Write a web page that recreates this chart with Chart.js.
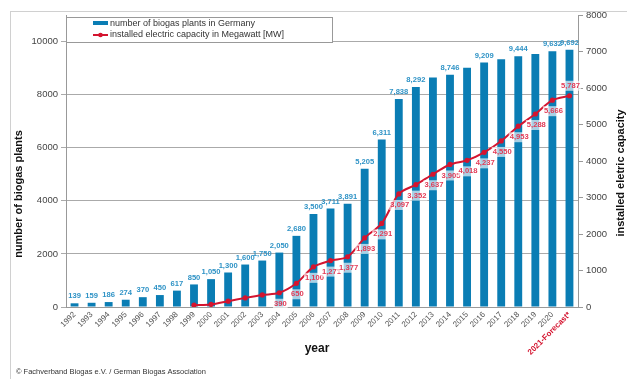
<!DOCTYPE html>
<html>
<head>
<meta charset="utf-8">
<script src="https://cdn.jsdelivr.net/npm/chart.js@4/dist/chart.umd.min.js"></script>
<style>
  html, body { margin: 0; padding: 0; background: #fff; }
  #wrap { width: 627px; height: 379px; }
</style>
</head>
<body>
<div id="wrap"><canvas id="myChart" width="627" height="379"></canvas></div>
<script>
const years = ['1992', '1993', '1994', '1995', '1996', '1997', '1998', '1999', '2000', '2001',
  '2002', '2003', '2004', '2005', '2006', '2007', '2008', '2009', '2010', '2011',
  '2012', '2013', '2014', '2015', '2016', '2017', '2018', '2019', '2020', '2021-Forecast*']

// number of biogas plants (left axis)
const plants = [139, 159, 186, 274, 370, 450, 617, 850, 1050, 1300,
  1600, 1750, 2050, 2680, 3500, 3711, 3891, 5205, 6311, 7838,
  8292, 8650, 8746, 9010, 9209, 9330, 9444, 9530, 9632, 9692]

// installed electric capacity in MW (right axis)
const capacity = [null, null, null, null, null, null, null, 50, 70, 160,
  250, 330, 390, 650, 1100, 1271, 1377, 1893, 2291, 3097,
  3352, 3637, 3905, 4018, 4237, 4550, 4953, 5288, 5666, 5787]

const leftTicks = [0, 2000, 4000, 6000, 8000, 10000]
const rightTicks = [0, 1000, 2000, 3000, 4000, 5000, 6000, 7000, 8000]

// years whose bar value is not printed in the original
const unlabelledBars = ['2013', '2015', '2017', '2019']
const firstLineLabel = '2004'

const BLUE = '#0a7db4'
const BLUE_TXT = '#2f93c6'
const RED = '#d4142f'
const RED_TXT = '#e23a55'
const FONT = '"Liberation Sans", Arial, sans-serif'

const fmt = v => v.toLocaleString('en-US')

const decor = {
  id: 'decor',
  beforeDraw(chart) {
    const c = chart.ctx
    c.save()
    c.strokeStyle = '#d0d0d0'
    c.lineWidth = 1
    c.strokeRect(10.5, 11.5, 640, 400)
    c.restore()
  },
  afterDatasetsDraw(chart) {
    const c = chart.ctx
    const bars = chart.getDatasetMeta(0).data
    const pts = chart.getDatasetMeta(1).data
    c.save()
    c.font = 'bold 7.6px ' + FONT
    c.textAlign = 'center'
    c.textBaseline = 'middle'
    bars.forEach((b, i) => {
      if (unlabelledBars.includes(years[i])) return
      c.fillStyle = BLUE_TXT
      c.fillText(fmt(plants[i]), b.x, b.y - 7)
    })
    const start = years.indexOf(firstLineLabel)
    pts.forEach((p, i) => {
      if (i < start || capacity[i] == null) return
      const txt = fmt(capacity[i])
      const last = i === pts.length - 1
      const y = last ? p.y - 10 : p.y + 11
      const x = p.x + 1
      const w = c.measureText(txt).width
      c.fillStyle = 'rgba(255,255,255,0.65)'
      c.fillRect(x - w / 2 - 1, y - 5, w + 2, 10)
      c.fillStyle = RED_TXT
      c.fillText(txt, x, y)
    })
    c.restore()
  },
  afterDraw(chart) {
    const c = chart.ctx
    const a = chart.chartArea
    c.save()
    // legend box
    c.fillStyle = '#fff'
    c.fillRect(a.left, 17, 266, 25)
    c.strokeStyle = '#999'
    c.lineWidth = 1
    c.strokeRect(a.left + 0.5, 17.5, 266, 25)
    c.fillStyle = BLUE
    c.fillRect(93, 21, 15, 4)
    c.strokeStyle = RED
    c.lineWidth = 2
    c.beginPath()
    c.moveTo(93, 35)
    c.lineTo(108, 35)
    c.stroke()
    c.fillStyle = RED
    c.beginPath()
    c.arc(100.5, 35, 2.3, 0, Math.PI * 2)
    c.fill()
    c.fillStyle = '#333'
    c.font = '9px ' + FONT
    c.textAlign = 'left'
    c.textBaseline = 'middle'
    c.fillText('number of biogas plants in Germany', 110, 23.5)
    c.fillText('installed electric capacity in Megawatt [MW]', 110, 35)

    // axis titles
    c.fillStyle = '#111'
    c.font = 'bold 11px ' + FONT
    c.textAlign = 'center'
    c.save()
    c.translate(19, 194)
    c.rotate(-Math.PI / 2)
    c.fillText('number of biogas plants', 0, 0)
    c.restore()
    c.save()
    c.translate(621, 173)
    c.rotate(-Math.PI / 2)
    c.fillText('installed eletric capacity', 0, 0)
    c.restore()
    c.font = 'bold 12px ' + FONT
    c.fillText('year', 317, 349)

    // source
    c.fillStyle = '#333'
    c.font = '7.5px ' + FONT
    c.textAlign = 'left'
    c.fillText('\u00a9 Fachverband Biogas e.V. / German Biogas Association', 16, 372)
    c.restore()
  }
}

new Chart(document.getElementById('myChart'), {
  data: {
    labels: years,
    datasets: [{
      type: 'bar',
      label: 'number of biogas plants in Germany',
      data: plants,
      yAxisID: 'y',
      backgroundColor: BLUE,
      categoryPercentage: 1,
      barPercentage: 0.46,
      order: 1
    }, {
      type: 'line',
      label: 'installed electric capacity in Megawatt [MW]',
      data: capacity,
      yAxisID: 'y2',
      borderColor: RED,
      backgroundColor: RED,
      borderWidth: 2,
      pointRadius: 2.6,
      pointBackgroundColor: RED,
      pointBorderWidth: 0,
      tension: 0.3,
      order: 0
    }]
  },
  options: {
    responsive: false,
    animation: false,
    layout: { padding: { top: 15, left: 0, right: 0, bottom: 0 } },
    plugins: {
      legend: { display: false },
      tooltip: { enabled: false }
    },
    scales: {
      x: {
        grid: { display: false, drawTicks: false },
        border: { color: '#999' },
        ticks: {
          autoSkip: false,
          minRotation: 45,
          maxRotation: 45,
          padding: 3,
          font: ctx => ({
            family: FONT,
            size: 8,
            weight: ctx.index === years.length - 1 ? 'bold' : 'normal'
          }),
          color: ctx => ctx.index === years.length - 1 ? RED : '#555'
        },
        afterFit: s => { s.height = 72 }
      },
      y: {
        position: 'left',
        min: 0,
        max: 11000,
        afterBuildTicks: s => { s.ticks = leftTicks.map(v => ({ value: v })) },
        grid: { color: '#aaa', tickLength: 5 },
        border: { color: '#999' },
        ticks: {
          padding: 3,
          font: { family: FONT, size: 9.5 },
          color: '#444',
          callback: v => String(v)
        },
        afterFit: s => { s.width = 66 }
      },
      y2: {
        position: 'right',
        min: 0,
        max: 8000,
        afterBuildTicks: s => { s.ticks = rightTicks.map(v => ({ value: v })) },
        grid: { drawOnChartArea: false, color: '#999', tickLength: 5 },
        border: { color: '#999' },
        ticks: {
          padding: 3,
          font: { family: FONT, size: 9.5 },
          color: '#444',
          callback: v => String(v)
        },
        afterFit: s => { s.width = 49 }
      }
    }
  },
  plugins: [decor]
})
</script>
</body>
</html>
